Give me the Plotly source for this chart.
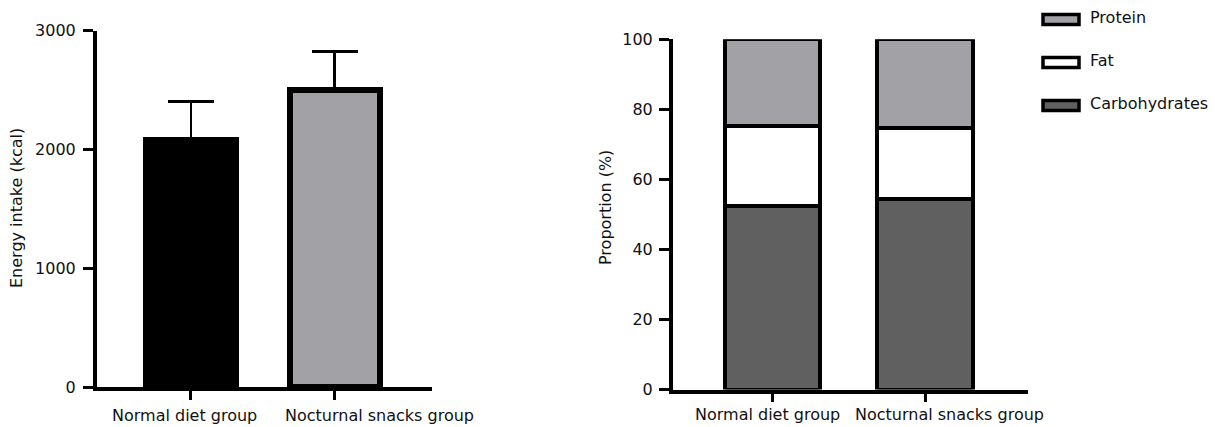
import plotly.graph_objects as go

# ---- data ----
groups = ["Normal diet group", "Nocturnal snacks group"]
energy_mean = [2083, 2500]
energy_sd = [321, 323]
energy_colors = ["#000000", "#A2A2A6"]

series_names = ["Carbohydrates", "Fat", "Protein"]
carbohydrates = [52.3, 54.5]
fat = [23.0, 20.1]
protein = [24.7, 25.4]
series_values = [carbohydrates, fat, protein]
series_colors = ["#606060", "#FFFFFF", "#A2A2A6"]

left_ticks = [0, 1000, 2000, 3000]
right_ticks = [0, 20, 40, 60, 80, 100]

W, H = 1215, 427
FONT = "DejaVu Sans"
TXT = "#111111"

fig = go.Figure()

fig.add_trace(go.Bar(
    x=groups, y=energy_mean, width=0.625,
    marker=dict(color=energy_colors, line=dict(color="black", width=6)),
    error_y=dict(type="data", array=energy_sd, arrayminus=[0] * len(energy_sd),
                 symmetric=False, color="black", thickness=2.5, width=23),
    xaxis="x", yaxis="y", showlegend=False, hoverinfo="skip",
))

for name, vals, col in zip(series_names, series_values, series_colors):
    fig.add_trace(go.Bar(
        x=groups, y=vals, name=name, width=0.625,
        marker=dict(color=col, line=dict(color="black", width=4)),
        xaxis="x2", yaxis="y2", showlegend=False, hoverinfo="skip",
    ))

axis_common = dict(
    showline=True, linecolor="black", linewidth=3.5,
    ticks="outside", ticklen=10, tickwidth=3, tickcolor="black",
    showgrid=False, zeroline=False, automargin=False, tickangle=0,
    tickfont=dict(family=FONT, size=16, color=TXT),
)

fig.update_layout(
    width=W, height=H,
    margin=dict(l=0, r=0, t=0, b=0, autoexpand=False),
    paper_bgcolor="white", plot_bgcolor="white",
    barmode="stack",
    font=dict(family=FONT, size=16, color=TXT),
    showlegend=False,
    xaxis=dict(axis_common, domain=[96.75 / W, 432 / W], range=[-0.656, 1.678],
               type="category", ticklen=9, anchor="y", showticklabels=False),
    yaxis=dict(axis_common, domain=[1 - 387 / H, 1 - 30.7 / H], range=[0, 3000],
               tickvals=left_ticks, anchor="x", ticklabelstandoff=4),
    xaxis2=dict(axis_common, domain=[672.75 / W, 1028 / W], range=[-0.654, 1.675],
                type="category", ticklen=9, anchor="y2", showticklabels=False),
    yaxis2=dict(axis_common, domain=[1 - 389.5 / H, 1 - 39.3 / H], range=[0, 100],
                tickvals=right_ticks, anchor="x2", ticklabelstandoff=3),
)

# y-axis titles
for title, xpix in [("Energy intake (kcal)", 16), ("Proportion (%)", 605)]:
    fig.add_annotation(xref="paper", yref="paper", x=xpix / W, y=1 - 208 / H,
                       text=title, textangle=-90, showarrow=False,
                       xanchor="center", yanchor="middle",
                       font=dict(family=FONT, size=16, color=TXT))

# category labels (offset like the original, left-anchored)
left_label_shift = [-81, -52]
right_label_shift = [-80, -72]
for g, dx in zip(groups, left_label_shift):
    fig.add_annotation(xref="x", yref="y", x=g, y=0, text=g, showarrow=False,
                       xanchor="left", yanchor="middle", xshift=dx, yshift=-28,
                       font=dict(family=FONT, size=16, color=TXT))
for g, dx in zip(groups, right_label_shift):
    fig.add_annotation(xref="x2", yref="y2", x=g, y=0, text=g, showarrow=False,
                       xanchor="left", yanchor="middle", xshift=dx, yshift=-25,
                       font=dict(family=FONT, size=16, color=TXT))

# custom legend (top-right), ordered top to bottom: Protein, Fat, Carbohydrates
legend_centers = [19.5, 62.5, 105.5]
for name, col, cy in zip(series_names[::-1], series_colors[::-1], legend_centers):
    fig.add_shape(type="rect", xref="paper", yref="paper",
                  x0=1043 / W, x1=1079 / W,
                  y0=1 - (cy + 5) / H, y1=1 - (cy - 5) / H,
                  fillcolor=col, line=dict(color="black", width=3.5))
    fig.add_annotation(xref="paper", yref="paper", x=1088 / W, y=1 - (cy - 2) / H,
                       text=name, showarrow=False, xanchor="left", yanchor="middle",
                       font=dict(family=FONT, size=16, color=TXT))

fig.write_html(
    "out.html",
    config={"displayModeBar": False},
    post_script="document.body.style.margin='0px';document.body.style.overflow='hidden';",
)
